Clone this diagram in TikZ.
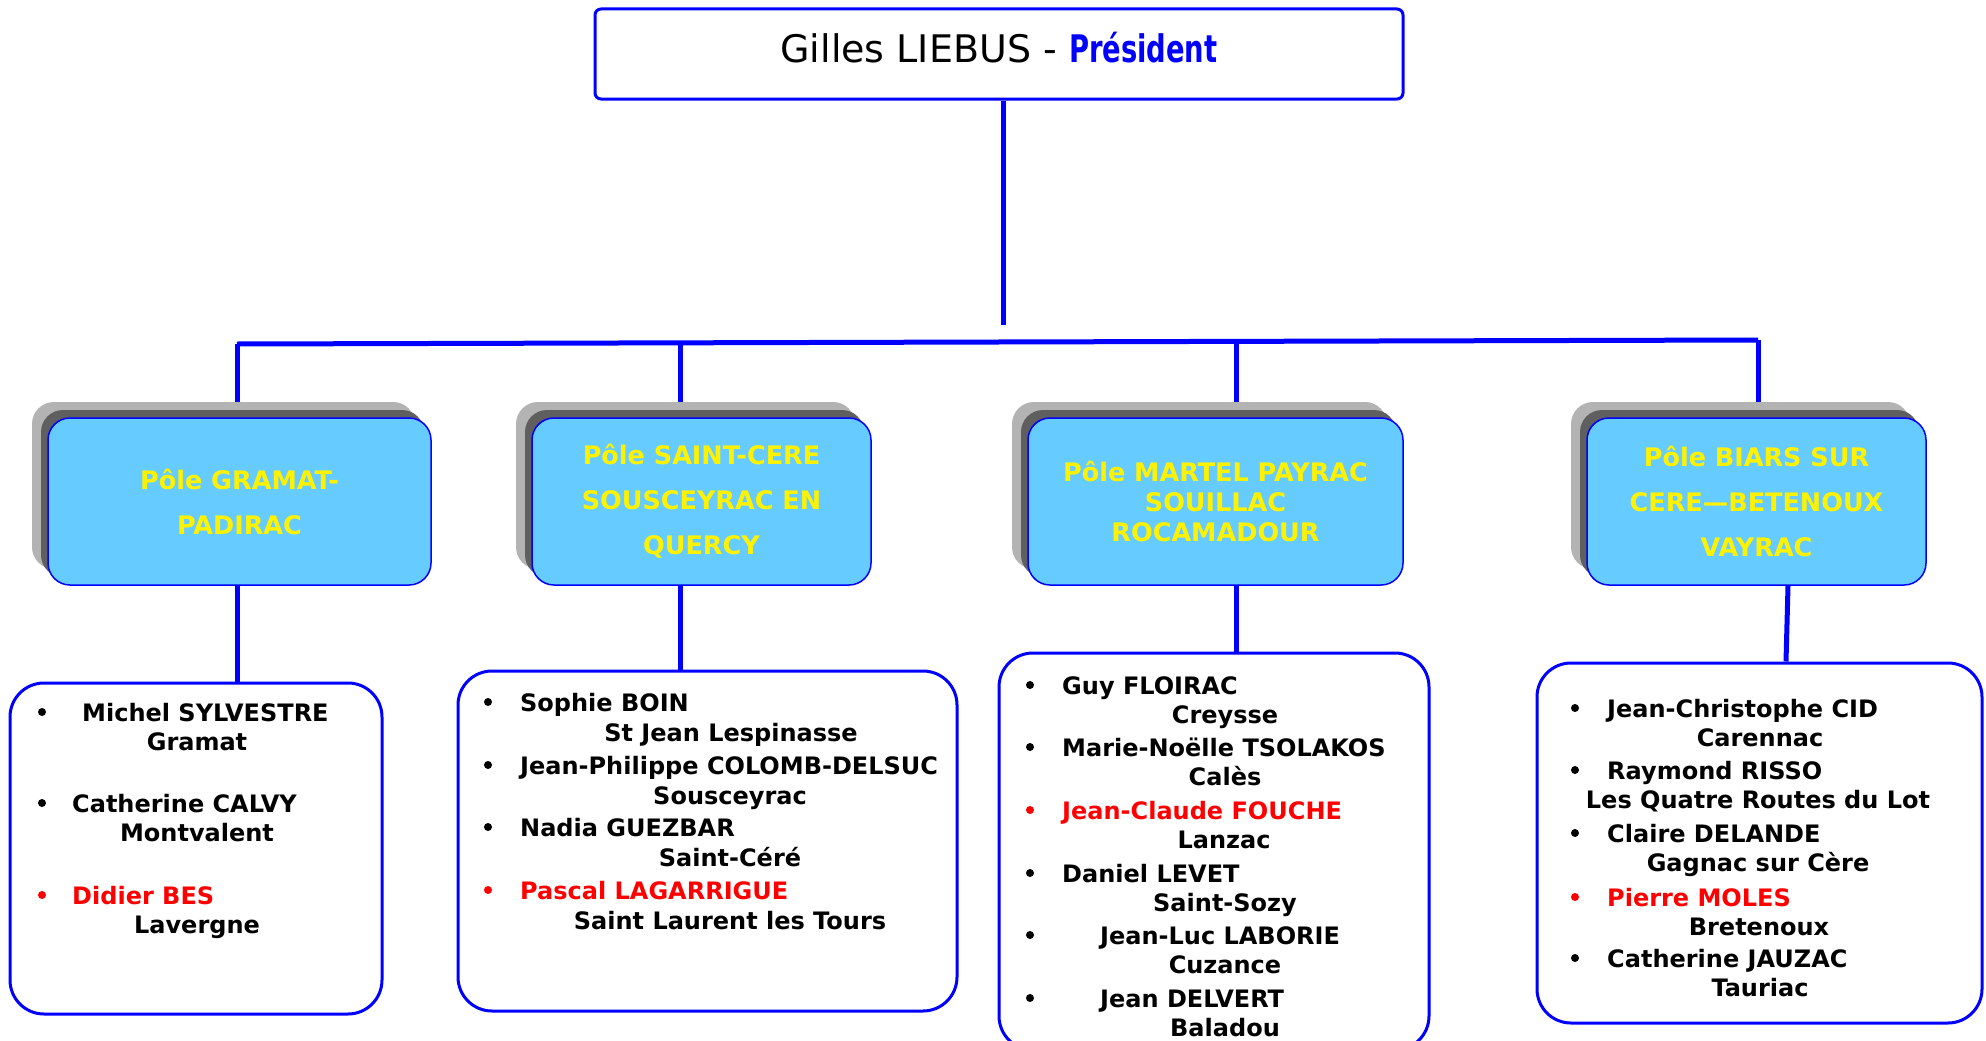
\documentclass[tikz,border=0pt]{standalone}
\usepackage{fontspec}
\setmainfont{DejaVu Sans}
\newfontfamily\presfont[FakeStretch=0.72]{DejaVu Sans}
\usepackage{tikz}
\usetikzlibrary{shadows, backgrounds, positioning}
\definecolor{linkblue}{RGB}{0,0,255}
\definecolor{poleblue}{RGB}{102,204,255}
\definecolor{shadelight}{RGB}{179,179,179}
\definecolor{shadedark}{RGB}{95,95,95}
\tikzstyle{chief} = [rectangle, rounded corners=6pt, minimum width=808pt, minimum height=90pt, draw=linkblue, line width=3pt, fill=white, text depth=14pt]
\tikzstyle{pole} = [rectangle, rounded corners=22pt, minimum height=167pt, draw=linkblue, line width=1.5pt, fill=poleblue, text=yellow, align=center, font=\fontsize{25.5}{45}\selectfont\bfseries, general shadow={fill=shadelight, shadow xshift=-16pt, shadow yshift=16pt}, general shadow={fill=shadedark, shadow xshift=-7pt, shadow yshift=8pt}]
\tikzstyle{members} = [rectangle, rounded corners=34pt, draw=linkblue, line width=3pt, fill=white]
\tikzstyle{link} = [draw=linkblue, line width=5pt]
\tikzstyle{who} = [anchor=west, inner sep=0pt, text height=22pt, text depth=4pt, font=\fontsize{24}{29}\selectfont\bfseries]
\tikzstyle{where} = [inner sep=0pt, text height=22pt, text depth=4pt, font=\fontsize{24}{29}\selectfont\bfseries]
\tikzstyle{dot} = [circle, inner sep=0pt, minimum size=8pt]

\begin{document}
\begin{tikzpicture}[x=1pt, y=-1pt]
\useasboundingbox (0,0) rectangle (1986,1041);

% president
\node (chief) [chief] at (999,54) {\fontsize{38}{44}\selectfont Gilles LIEBUS - {\presfont\bfseries\color{linkblue}Président}};

% poles
\node (pole1) [pole, minimum width=383pt] at (239.5,501.5) {Pôle GRAMAT-\\PADIRAC};
\node (pole2) [pole, minimum width=339pt] at (701.5,501.5) {Pôle SAINT-CERE\\SOUSCEYRAC EN\\QUERCY};
\node (pole3) [pole, minimum width=375pt, font=\fontsize{25.5}{30}\selectfont\bfseries] at (1215.5,501.5) {Pôle MARTEL PAYRAC\\SOUILLAC\\ROCAMADOUR};
\node (pole4) [pole, minimum width=339pt] at (1756.5,501.5) {Pôle BIARS SUR\\CERE—BETENOUX\\VAYRAC};

% member boxes
\node (grp1) [members, minimum width=372pt, minimum height=331pt] at (196,848.5) {};
\node (grp2) [members, minimum width=499pt, minimum height=340pt] at (707.5,841) {};
\node (grp3) [members, minimum width=430pt, minimum height=397pt] at (1214,851.5) {};
\node (grp4) [members, minimum width=445pt, minimum height=360pt] at (1759.5,843) {};

% connectors
\coordinate (hub) at (1003,325);
\coordinate (tap1) at (237,344);
\coordinate (tap2) at (680,342.8);
\coordinate (tap3) at (1236,341.4);
\coordinate (tap4) at (1758,340);
\begin{pgfonlayer}{background}
\fill [white] (0,0) rectangle (1986,1041);
\draw [link] (hub |- chief.south) -- (hub);
\draw [link] (tap1) -- (tap4);
\foreach \k in {1,2,3,4}
  \draw [link] (tap\k) -- (tap\k |- pole\k.north);
\foreach \k in {1,2,3}
  \draw [link] (tap\k |- pole\k.south) -- (tap\k |- grp\k.north);
\draw [link] ([xshift=31.5pt]pole4.south) -- ([xshift=26.5pt]grp4.north);
\end{pgfonlayer}

% members
\foreach \nm/\nx/\ny/\tw/\tx/\c [count=\k] in {
  Michel SYLVESTRE/82/712/Gramat/197/black,
  Catherine CALVY/72/803/Montvalent/197/black,
  Didier BES/72/895/Lavergne/197/red}
{
  \node (dot1-\k) [dot, fill=\c] at (42,\ny) {};
  \node (name1-\k) [who, text=\c] at (\nx,\ny) {\nm};
  \node (town1-\k) [where] at (\tx,\ny+29) {\tw};
}
\foreach \nm/\nx/\ny/\tw/\tx/\c [count=\k] in {
  Sophie BOIN/520/702/St Jean Lespinasse/731/black,
  Jean-Philippe COLOMB-DELSUC/520/765/Sousceyrac/730/black,
  Nadia GUEZBAR/520/827/Saint-Céré/730/black,
  Pascal LAGARRIGUE/520/890/Saint Laurent les Tours/730/red}
{
  \node (dot2-\k) [dot, fill=\c] at (488,\ny) {};
  \node (name2-\k) [who, text=\c] at (\nx,\ny) {\nm};
  \node (town2-\k) [where] at (\tx,\ny+30) {\tw};
}
\foreach \nm/\nx/\ny/\tw/\tx/\c [count=\k] in {
  Guy FLOIRAC/1062/685/Creysse/1225/black,
  Marie-Noëlle TSOLAKOS/1062/747/Calès/1225/black,
  Jean-Claude FOUCHE/1062/810/Lanzac/1224/red,
  Daniel LEVET/1062/873/Saint-Sozy/1225/black,
  Jean-Luc LABORIE/1100/935/Cuzance/1225/black,
  Jean DELVERT/1100/998/Baladou/1225/black}
{
  \node (dot3-\k) [dot, fill=\c] at (1030,\ny) {};
  \node (name3-\k) [who, text=\c] at (\nx,\ny) {\nm};
  \node (town3-\k) [where] at (\tx,\ny+29) {\tw};
}
\foreach \nm/\nx/\ny/\tw/\tx/\c [count=\k] in {
  Jean-Christophe CID/1607/708/Carennac/1760/black,
  Raymond RISSO/1607/770/Les Quatre Routes du Lot/1758/black,
  Claire DELANDE/1607/833/Gagnac sur Cère/1758/black,
  Pierre MOLES/1607/897/Bretenoux/1759/red,
  Catherine JAUZAC/1607/958/Tauriac/1760/black}
{
  \node (dot4-\k) [dot, fill=\c] at (1575,\ny) {};
  \node (name4-\k) [who, text=\c] at (\nx,\ny) {\nm};
  \node (town4-\k) [where] at (\tx,\ny+29) {\tw};
}
\end{tikzpicture}
\end{document}
